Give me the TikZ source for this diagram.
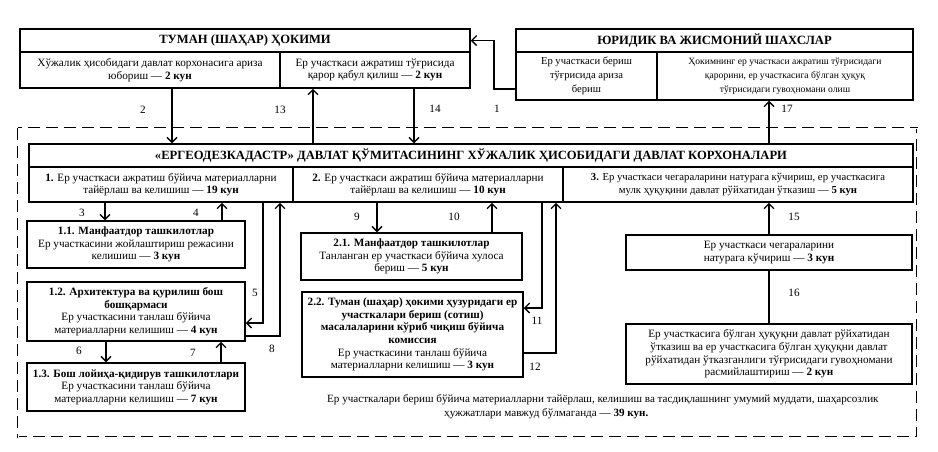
\documentclass[tikz,border=0pt]{standalone}
\usepackage{fontspec}
\setmainfont{Liberation Serif}
\usetikzlibrary{arrows.meta}
\newcommand{\txtfnt}{\fontsize{11.2}{12.6}\selectfont}
\newcommand{\smallfnt}{\fontsize{10.7}{13.5}\selectfont}
\newcommand{\tinyfnt}{\fontsize{9.6}{14}\selectfont}
\newcommand{\hdrfnt}{\fontsize{12.6}{14}\selectfont\bfseries}
\begin{document}
\begin{tikzpicture}[x=1pt,y=-1pt,
  bx/.style={draw, line width=1.5pt, inner sep=1pt, align=center, font=\txtfnt},
  hd/.style={draw, line width=1.5pt, inner sep=1pt, align=center, font=\hdrfnt},
  arr/.style={line width=1.3pt, -{Straight Barb[length=5pt,width=10pt,line width=1.3pt]}},
  ln/.style={line width=1.3pt},
  lbl/.style={font=\txtfnt, inner sep=0pt},
  sumtxt/.style={font=\fontsize{11.1}{14}\selectfont, anchor=base west, inner sep=0pt},
  frame/.style={line width=0.7pt, double=white, double distance=1pt, dash pattern=on 12pt off 6pt}
]
\useasboundingbox (0,0) rectangle (938,451);

% dashed frame
\draw[frame] (18,128) rectangle (917,437);

% top-left box
\node[hd, minimum width=450, minimum height=23] (tumanH) at (245,40.5) {ТУМАН (ШАҲАР) ҲОКИМИ};
\node[bx, minimum width=260, minimum height=36] (tumanA) at (150,70) {Хўжалик ҳисобидаги давлат корхонасига ариза\\юбориш — \textbf{2 кун}};
\node[bx, minimum width=190, minimum height=36] (tumanB) at (375,70) {Ер участкаси ажратиш тўғрисида\\қарор қабул қилиш — \textbf{2 кун}};

% top-right box
\node[hd, minimum width=397, minimum height=23] (yurH) at (714.5,40.5) {ЮРИДИК ВА ЖИСМОНИЙ ШАХСЛАР};
\node[bx, minimum width=141, minimum height=48, font=\fontsize{10.6}{14}\selectfont] (yurA) at (586.5,76) {Ер участкаси бериш\\тўғрисида ариза\\бериш};
\node[bx, minimum width=256, minimum height=48, font=\tinyfnt] (yurB) at (785,76) {Ҳокимнинг ер участкаси ажратиш тўғрисидаги\\қарорини, ер участкасига бўлган ҳуқуқ\\тўғрисидаги гувоҳномани олиш};

% main box
\node[hd, minimum width=884, minimum height=23] (mainH) at (471,155.5) {«ЕРГЕОДЕЗКАДАСТР» ДАВЛАТ ҚЎМИТАСИНИНГ ХЎЖАЛИК ҲИСОБИДАГИ ДАВЛАТ КОРХОНАЛАРИ};
\node[bx, minimum width=264, minimum height=35] (c1) at (161,184.5) {\textbf{1.} Ер участкаси ажратиш бўйича материалларни\\тайёрлаш ва келишиш — \textbf{19 кун}};
\node[bx, minimum width=270, minimum height=35] (c2) at (428,184.5) {\textbf{2.} Ер участкаси ажратиш бўйича материалларни\\тайёрлаш ва келишиш — \textbf{10 кун}};
\node[bx, minimum width=350, minimum height=35, font=\smallfnt] (c3) at (738,184.5) {\textbf{3.} Ер участкаси чегараларини натурага кўчириш, ер участкасига\\мулк ҳуқуқини давлат рўйхатидан ўтказиш — \textbf{5 кун}};

% column 1 sub-boxes
\node[bx, minimum width=218, minimum height=47] (b11) at (136,244.5) {\textbf{1.1. Манфаатдор ташкилотлар}\\Ер участкасини жойлаштириш режасини\\келишиш — \textbf{3 кун}};
\node[bx, minimum width=218, minimum height=59] (b12) at (136,311.5) {\textbf{1.2. Архитектура ва қурилиш бош}\\\textbf{бошқармаси}\\Ер участкасини танлаш бўйича\\материалларни келишиш — \textbf{4 кун}};
\node[bx, minimum width=218, minimum height=48] (b13) at (136,387) {\textbf{1.3. Бош лойиҳа-қидирув ташкилотлари}\\Ер участкасини танлаш бўйича\\материалларни келишиш — \textbf{7 кун}};

% column 2 sub-boxes
\node[bx, minimum width=221, minimum height=47] (b21) at (411.5,256.5) {\textbf{2.1. Манфаатдор ташкилотлар}\\Танланган ер участкаси бўйича хулоса\\бериш — \textbf{5 кун}};
\node[bx, minimum width=221, minimum height=85] (b22) at (412.5,334.5) {\textbf{2.2. Туман (шаҳар) ҳокими ҳузуридаги ер}\\\textbf{участкалари бериш (сотиш)}\\\textbf{масалаларини кўриб чиқиш бўйича}\\\textbf{комиссия}\\Ер участкасини танлаш бўйича\\материалларни келишиш — \textbf{3 кун}};

% column 3 sub-boxes
\node[bx, minimum width=286, minimum height=35] (b31) at (769,252.5) {Ер участкаси чегараларини\\натурага кўчириш — \textbf{3 кун}};
\node[bx, minimum width=286, minimum height=60] (b32) at (769,354) {Ер участкасига бўлган ҳуқуқни давлат рўйхатидан\\ўтказиш ва ер участкасига бўлган ҳуқуқни давлат\\рўйхатидан ўтказганлиги тўғрисидаги гувоҳномани\\расмийлаштириш — \textbf{2 кун}};

% summary (two lines)
\node[sumtxt] (sum1) at (327,402) {Ер участкалари бериш бўйича материалларни тайёрлаш, келишиш ва тасдиқлашнинг умумий муддати, шаҳарсозлик};
\node[sumtxt] (sum2) at (444,416) {ҳужжатлари мавжуд бўлмаганда — \textbf{39 кун.}};

% connectors
\draw[arr] (yurA.west |- 0,89) -| (494,0 |- tumanH.east) -- (tumanH.east);
\draw[arr] (tumanA.south -| 172,0) -- (mainH.north -| 172,0);
\draw[arr] (mainH.north -| 313,0) -- (tumanB.south -| 313,0);
\draw[arr] (tumanB.south -| 414,0) -- (mainH.north -| 414,0);
\draw[arr] (mainH.north -| 769,0) -- (yurB.south -| 769,0);

\draw[arr] (c1.south -| 105,0) -- (b11.north -| 105,0);
\draw[arr] (b11.north -| 222,0) -- (c1.south -| 222,0);
\draw[arr] (c1.south -| 263,0) |- (b12.east |- 0,323);
\draw[arr] (b12.east |- 0,336) -| (c1.south -| 280,0);
\draw[arr] (b12.south -| 106,0) -- (b13.north -| 106,0);
\draw[arr] (b13.north -| 221,0) -- (b12.south -| 221,0);

\draw[arr] (c2.south -| 377,0) -- (b21.north -| 377,0);
\draw[arr] (b21.north -| 492,0) -- (c2.south -| 492,0);
\draw[arr] (c2.south -| 542,0) |- (b22.east |- 0,308);
\draw[arr] (b22.east |- 0,353) -| (c2.south -| 556,0);

\draw[arr] (b31.north) -- (c3.south -| b31.north);
\draw[ln] (b32.north) -- (b31.south);

% labels
\node[lbl] (l1) at (497,109) {1};
\node[lbl] (l2) at (143,110) {2};
\node[lbl] (l13) at (280,110) {13};
\node[lbl] (l14) at (435,109) {14};
\node[lbl] (l17) at (787,109) {17};
\node[lbl] (l3) at (82,213) {3};
\node[lbl] (l4) at (196,213) {4};
\node[lbl] (l5) at (255,293) {5};
\node[lbl] (l6) at (79,351) {6};
\node[lbl] (l7) at (193,353) {7};
\node[lbl] (l8) at (272,349) {8};
\node[lbl] (l9) at (357,217) {9};
\node[lbl] (l10) at (454,217) {10};
\node[lbl] (l11) at (537,321) {11};
\node[lbl] (l12) at (535,367) {12};
\node[lbl] (l15) at (794,217) {15};
\node[lbl] (l16) at (794,293) {16};
\end{tikzpicture}
\end{document}
